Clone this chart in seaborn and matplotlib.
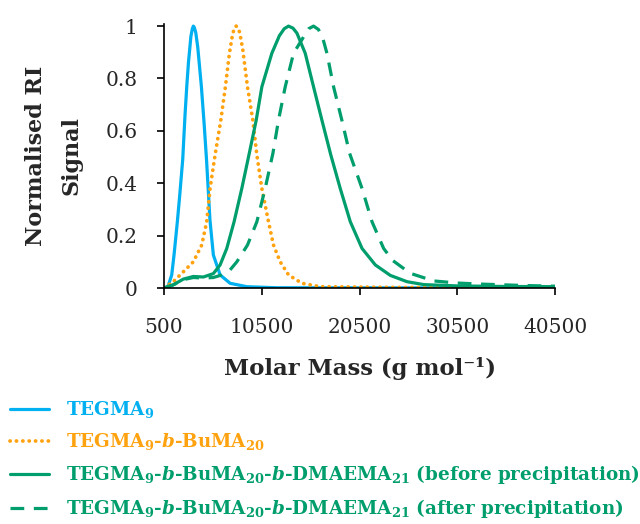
import numpy as np
import pandas as pd
import matplotlib
matplotlib.use("Agg")
import matplotlib.pyplot as plt
import seaborn as sns

# ---- data ----
tegma_mass = [500, 900, 1290, 1525, 1866, 2100, 2414, 2650, 2826, 3000, 3250, 3400, 3503,
              3600, 3750, 3950, 4150, 4322, 4600, 4850, 5200, 5550, 6240, 7260, 8970, 12000, 40500]
tegma_sig = [0.0, 0.005, 0.05, 0.126, 0.253, 0.35, 0.49, 0.66, 0.768, 0.86, 0.96, 0.99, 1.0,
             0.995, 0.975, 0.92, 0.84, 0.77, 0.63, 0.49, 0.26, 0.126, 0.05, 0.018, 0.005, 0.001, 0.0]

buma_mass = [500, 1450, 2480, 3500, 4360, 4870, 5213, 5725, 6310, 6780, 7190, 7500, 7700, 7877,
             8050, 8250, 8560, 9040, 9590, 10000, 10510, 11190, 11700, 12385, 13240, 14610, 16480,
             25000, 40500]
buma_sig = [0.0, 0.024, 0.062, 0.1, 0.164, 0.253, 0.38, 0.508, 0.64, 0.768, 0.896, 0.965, 0.993, 1.0,
            0.995, 0.975, 0.91, 0.768, 0.64, 0.508, 0.38, 0.253, 0.164, 0.1, 0.05, 0.018, 0.005,
            0.002, 0.001]

before_mass = [500, 1450, 2480, 3500, 4530, 5550, 6240, 6920, 7670, 8460, 9200, 9930, 10510,
               11530, 12300, 12800, 13240, 13700, 14100, 14950, 15800, 16660, 17550, 18530, 19560,
               20760, 22120, 23660, 25370, 27070, 30490, 35000, 40500]
before_sig = [0.0, 0.012, 0.034, 0.044, 0.042, 0.055, 0.088, 0.151, 0.253, 0.38, 0.51, 0.64,
              0.768, 0.896, 0.963, 0.99, 1.0, 0.992, 0.973, 0.896, 0.768, 0.64, 0.51, 0.38, 0.253,
              0.151, 0.088, 0.048, 0.024, 0.013, 0.008, 0.006, 0.005]

after_mass = [500, 1450, 2480, 3500, 4530, 5550, 6240, 7260, 7950, 9040, 10000, 10850, 11640,
              12210, 12900, 13750, 14800, 15300, 15800, 16300, 16700, 17170, 17850, 18700, 19490,
              20760, 21780, 22970, 23900, 25700, 28090, 30490, 32880, 35270, 38000, 40500]
after_sig = [0.0, 0.012, 0.032, 0.040, 0.038, 0.040, 0.048, 0.069, 0.1, 0.164, 0.253, 0.38,
             0.514, 0.64, 0.768, 0.896, 0.96, 0.99, 1.0, 0.987, 0.96, 0.896, 0.768, 0.64, 0.514,
             0.38, 0.253, 0.151, 0.105, 0.056, 0.027, 0.019, 0.015, 0.012, 0.009, 0.007]

x_ticks = [500, 10500, 20500, 30500, 40500]
y_ticks = [0, 0.2, 0.4, 0.6, 0.8, 1]
y_tick_labels = ["0", "0.2", "0.4", "0.6", "0.8", "1"]

labels = [
    r"TEGMA$_{\mathbf{9}}$",
    r"TEGMA$_{\mathbf{9}}$-$\mathbfit{b}$-BuMA$_{\mathbf{20}}$",
    r"TEGMA$_{\mathbf{9}}$-$\mathbfit{b}$-BuMA$_{\mathbf{20}}$-$\mathbfit{b}$-DMAEMA$_{\mathbf{21}}$ (before precipitation)",
    r"TEGMA$_{\mathbf{9}}$-$\mathbfit{b}$-BuMA$_{\mathbf{20}}$-$\mathbfit{b}$-DMAEMA$_{\mathbf{21}}$ (after precipitation)",
]

BLUE = "#00B0F0"
ORANGE = "#FFA20F"
GREEN = "#009E6C"

FONT = "DejaVu Serif"
sns.set_style("ticks")
plt.rcParams["font.family"] = [FONT]
plt.rcParams["mathtext.fontset"] = "custom"
plt.rcParams["mathtext.rm"] = FONT
plt.rcParams["mathtext.bf"] = FONT + ":bold"
plt.rcParams["mathtext.it"] = FONT + ":italic"
try:
    plt.rcParams["mathtext.bfit"] = FONT + ":bold:italic"
except KeyError:
    pass

fig = plt.figure(figsize=(6.4, 5.24), dpi=100)
ax = fig.add_axes([164 / 640, 1 - 288 / 524, (555 - 164) / 640, (288 - 24) / 524])

series = [
    (tegma_mass, tegma_sig, BLUE, "-", 2.3),
    (buma_mass, buma_sig, ORANGE, (0, (0.05, 1.65)), 2.7),
    (before_mass, before_sig, GREEN, "-", 2.3),
    (after_mass, after_sig, GREEN, (0, (4.3, 3.0)), 2.3),
]
handles = []
for (xm, ys, col, ls, lw), lab in zip(series, labels):
    df = pd.DataFrame({"mass": xm, "signal": ys})
    sns.lineplot(data=df, x="mass", y="signal", ax=ax, color=col, linewidth=lw,
                 linestyle=ls, sort=False, estimator=None)
    line = ax.lines[-1]
    if col == ORANGE:
        line.set_dash_capstyle("round")
    handles.append(line)

ax.set_xlim(500, 40500)
ax.set_ylim(0, 1.008)
ax.set_xticks(x_ticks)
ax.set_xticklabels([str(v) for v in x_ticks])
ax.set_yticks(y_ticks)
ax.set_yticklabels(y_tick_labels)
ax.tick_params(axis="both", labelsize=14.5, length=5, width=1.2, color="black")
ax.tick_params(axis="x", pad=16.5)
ax.tick_params(axis="y", pad=14)
for s in ["top", "right"]:
    ax.spines[s].set_visible(False)
for s in ["left", "bottom"]:
    ax.spines[s].set_linewidth(1.2)
    ax.spines[s].set_color("black")

ax.set_xlabel("Molar Mass (g mol\u207b\u00b9)", fontsize=16.4, fontweight="bold")
ax.xaxis.set_label_coords(0.5, -(357 - 288) / 264)
ax.set_ylabel("Normalised RI\nSignal", fontsize=16, fontweight="bold", linespacing=1.85)
ax.yaxis.set_label_coords(-(164 - 83) / 391, 0.5)

leg = fig.legend(handles, labels, loc="upper left", bbox_to_anchor=(10 / 640, 1 - 399 / 524),
                 frameon=False, prop={"weight": "bold", "size": 13.2}, handlelength=2.1,
                 handletextpad=0.95, labelspacing=0.6, borderaxespad=0.0, borderpad=0.0)
for txt, h in zip(leg.get_texts(), handles):
    txt.set_color(h.get_color())

fig.savefig("out.png", dpi=100)
